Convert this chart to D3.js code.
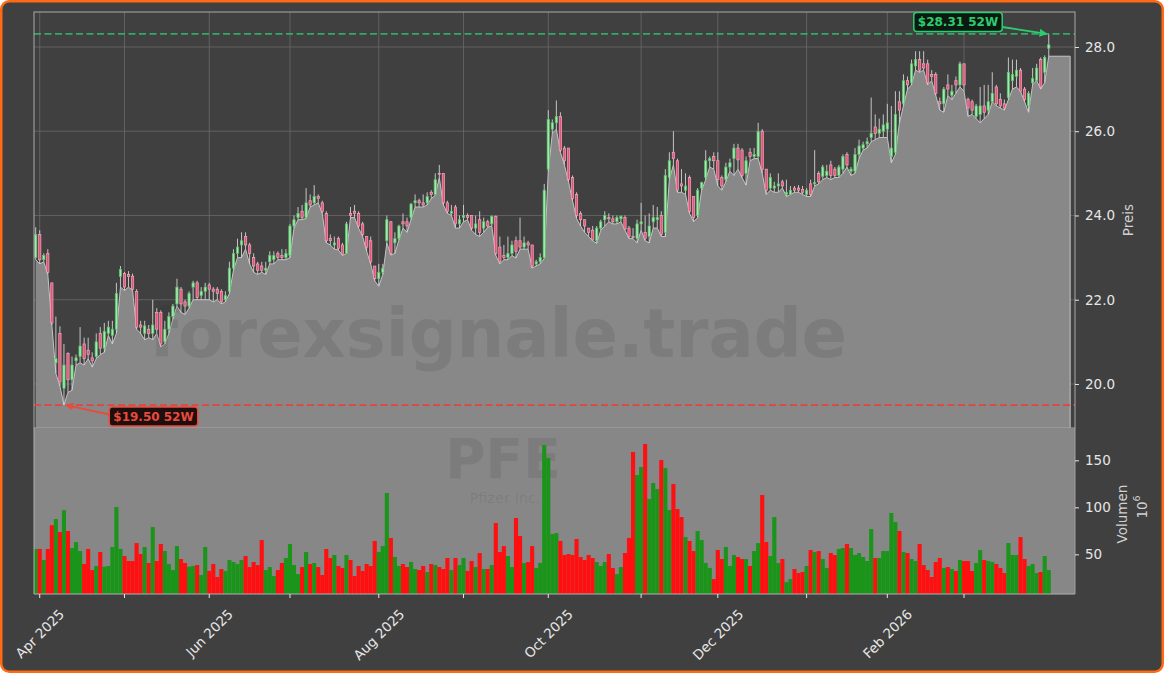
<!DOCTYPE html>
<html><head><meta charset="utf-8">
<script src="https://cdn.jsdelivr.net/npm/d3@7"></script>
<style>html,body{margin:0;padding:0;background:#fff;} svg{display:block;font-family:"DejaVu Sans",sans-serif;}</style>
</head><body><svg id="c" width="1164" height="673"></svg>
<script>
const opens=[23.0,23.55,22.95,23.1,22.4,20.5,21.2,19.9,20.72,20.1,20.55,20.65,20.95,20.8,20.62,20.65,21.2,20.85,21.2,21.15,
21.3,22.55,22.62,22.6,22.56,22.2,21.4,21.2,21.3,21.2,21.7,21.7,21.0,21.3,21.6,21.9,22.25,21.95,21.85,22.3,
22.4,22.1,22.2,22.35,22.25,22.25,22.2,22.0,22.2,22.75,23.1,23.3,23.5,23.3,23.0,22.85,22.8,22.7,22.9,22.95,
23.1,23.05,23.0,23.05,23.75,23.95,24.1,23.95,24.35,24.3,24.45,24.3,24.05,23.45,23.3,23.45,23.3,23.1,24.05,24.1,
24.05,23.8,23.5,23.4,22.8,22.5,22.65,23.4,23.85,23.35,23.45,23.85,23.85,23.95,24.3,24.35,24.3,24.3,24.55,24.5,
25.0,25.0,24.3,24.05,24.2,23.8,23.95,24.0,24.0,23.7,23.9,23.7,23.85,23.8,23.98,23.25,23.05,23.0,23.1,23.4,
23.4,23.25,23.35,23.3,22.85,22.9,23.0,25.1,26.05,26.2,26.35,25.6,25.6,24.9,24.5,24.05,23.9,23.7,23.65,23.4,
23.7,23.9,23.95,23.92,23.85,23.92,23.95,23.7,23.5,23.45,23.8,23.6,23.5,23.85,23.9,24.0,23.6,24.9,25.5,25.3,
24.75,24.6,24.9,24.45,24.0,24.65,24.9,25.3,25.4,25.3,24.9,24.85,25.15,25.35,25.6,25.55,25.0,25.5,25.4,25.4,
26.0,25.1,24.65,24.65,24.7,24.8,24.5,24.5,24.65,24.65,24.62,24.5,24.75,24.75,25.0,24.93,24.95,25.2,25.1,24.95,
25.1,25.45,25.05,25.05,25.45,25.6,25.7,25.85,26.1,25.95,26.0,26.05,25.4,25.5,26.7,26.65,27.2,27.15,27.55,27.7,
27.6,27.6,27.35,27.35,26.7,26.65,27.1,26.85,27.2,27.1,27.6,26.75,26.7,26.35,26.4,26.6,26.5,26.7,27.05,26.75,
26.65,26.8,27.2,27.3,27.45,27.0,26.6,27.15,27.2,27.7,27.4,27.97];
const highs=[23.72,23.65,23.1,23.2,22.4,21.6,21.37,20.95,20.75,20.65,20.7,21.35,21.1,21.1,20.75,21.2,21.35,21.45,21.5,21.5,
22.4,22.8,22.66,22.68,22.62,22.25,21.5,21.5,21.4,22.0,21.8,21.75,21.5,21.7,21.9,22.5,22.3,22.0,22.2,22.45,
22.45,22.3,22.4,22.4,22.3,22.3,22.25,22.2,22.9,23.2,23.45,23.6,23.6,23.35,23.1,22.9,22.9,22.9,23.15,23.15,
23.15,23.2,23.2,23.8,24.0,24.2,24.25,24.65,24.5,24.72,24.5,24.35,24.1,23.55,23.5,23.5,23.35,23.85,24.2,24.25,
24.1,23.85,23.5,23.5,22.8,22.85,22.85,24.0,23.87,23.6,23.78,24.05,23.95,24.3,24.5,24.4,24.5,24.55,24.6,25.0,
25.2,25.0,24.35,24.25,24.25,24.0,24.25,24.05,24.0,24.0,24.1,23.95,23.9,24.0,24.0,23.5,23.3,23.5,23.4,23.5,
23.95,23.5,23.4,23.3,22.95,23.1,24.75,26.5,26.28,26.73,26.45,25.65,25.6,24.95,24.55,24.1,23.9,23.7,23.75,23.75,
23.9,24.1,24.05,24.0,24.0,24.0,24.0,23.75,23.7,23.9,24.3,24.0,24.05,24.25,24.2,24.1,25.1,25.5,26.0,25.35,
25.1,25.0,24.95,24.45,24.65,24.8,25.55,25.4,25.5,25.5,24.95,25.25,25.35,25.7,25.7,25.6,25.4,25.6,25.6,26.2,
26.05,25.1,25.0,24.8,25.0,24.85,24.85,24.7,24.7,24.72,24.7,24.65,24.85,25.55,25.05,25.2,25.2,25.3,25.15,25.2,
25.45,25.5,25.15,25.6,25.8,25.75,25.85,26.8,26.4,26.3,26.4,26.65,26.6,26.95,26.95,27.35,27.3,27.7,27.9,27.9,
27.9,27.7,27.45,27.4,26.8,27.05,27.35,27.1,27.3,27.65,27.6,26.8,26.75,26.65,27.05,27.1,27.1,27.4,27.1,26.9,
26.75,27.75,27.7,27.7,27.5,27.05,26.95,27.5,27.6,27.75,27.8,28.31];
const lows=[22.95,22.85,22.9,22.6,21.4,20.25,19.95,19.5,19.8,19.85,20.45,20.5,20.45,20.6,20.4,20.6,20.7,20.75,21.15,20.95,
21.2,22.3,22.22,22.3,22.22,21.3,21.2,21.05,21.1,21.05,21.2,20.88,20.95,21.2,21.55,21.85,21.7,21.65,21.8,22.0,
22.0,22.0,22.0,22.0,21.95,22.0,21.9,21.95,22.15,22.7,23.0,23.0,23.2,22.85,22.65,22.6,22.65,22.6,22.85,22.85,
22.95,22.95,22.95,23.0,23.7,23.9,23.9,23.93,24.2,24.25,24.3,24.05,23.35,23.3,23.2,23.18,23.05,23.1,23.95,23.95,
23.7,23.5,23.15,22.85,22.45,22.32,22.6,23.35,23.06,23.1,23.42,23.7,23.6,23.9,24.2,24.2,24.2,24.25,24.4,24.48,
24.9,24.25,24.05,24.0,23.7,23.7,23.85,23.9,23.65,23.55,23.5,23.6,23.72,23.75,23.05,22.85,22.95,22.95,23.05,22.99,
23.2,23.2,23.2,22.75,22.8,22.85,22.98,25.05,25.95,26.05,25.5,25.2,24.8,24.35,23.93,23.75,23.6,23.5,23.4,23.34,
23.65,23.75,23.85,23.8,23.8,23.85,23.65,23.45,23.45,23.35,23.65,23.4,23.35,23.7,23.7,23.5,23.5,24.85,25.2,24.55,
24.55,24.5,24.05,23.85,23.95,24.6,24.85,25.15,25.1,24.7,24.6,24.8,25.05,24.95,25.1,24.9,24.72,25.3,25.35,25.35,
25.0,24.5,24.6,24.55,24.55,24.65,24.45,24.5,24.55,24.55,24.5,24.45,24.45,24.7,24.75,24.85,24.9,24.85,24.9,24.9,
25.0,25.15,24.95,25.0,25.35,25.55,25.6,25.75,25.8,25.85,25.85,25.85,25.25,25.45,26.2,26.6,27.0,27.1,27.45,27.4,
27.45,27.1,27.2,26.85,26.5,26.45,26.85,26.75,26.9,27.05,26.95,26.35,26.4,26.3,26.2,26.3,26.4,26.7,26.6,26.55,
26.5,26.75,27.0,27.05,26.95,26.7,26.45,27.1,27.2,27.0,27.15,27.78];
const closes=[23.55,22.95,23.05,22.65,21.45,20.6,20.05,20.45,20.1,20.45,20.62,20.9,20.6,20.7,20.55,21.0,20.85,21.25,21.35,21.3,
22.15,22.72,22.3,22.55,22.25,21.35,21.35,21.38,21.2,21.4,21.3,20.95,21.3,21.6,21.85,22.3,21.9,21.85,22.15,22.4,
22.05,22.2,22.3,22.25,22.2,22.15,21.95,22.1,22.75,23.1,23.25,23.4,23.3,23.1,22.8,22.7,22.7,22.75,23.05,23.05,
23.0,23.0,23.1,23.75,23.9,24.05,23.95,24.3,24.25,24.45,24.4,24.1,23.4,23.4,23.35,23.22,23.08,23.8,24.0,24.05,
23.75,23.55,23.25,22.9,22.5,22.65,22.75,23.9,23.1,23.45,23.75,23.8,23.75,24.27,24.35,24.3,24.25,24.45,24.5,24.85,
24.98,24.3,24.1,24.1,23.8,23.9,24.0,23.95,23.7,23.8,23.6,23.85,23.75,23.98,23.1,22.9,23.0,23.1,23.3,23.15,
23.25,23.35,23.3,22.8,22.9,23.0,24.6,26.28,26.2,26.35,25.55,25.3,24.85,24.4,24.0,23.9,23.75,23.6,23.42,23.7,
23.85,24.0,23.92,23.85,23.95,23.98,23.68,23.5,23.48,23.8,23.85,23.45,23.75,23.95,23.95,23.55,24.95,25.3,25.35,24.6,
24.7,24.7,24.1,23.95,24.6,24.78,25.3,25.35,25.3,24.85,24.7,25.15,25.25,25.6,25.32,24.95,25.3,25.4,25.45,25.99,
25.1,24.6,24.9,24.7,24.75,24.7,24.55,24.6,24.6,24.6,24.55,24.6,24.5,24.78,24.8,25.15,25.05,24.95,24.95,25.15,
25.4,25.2,25.1,25.45,25.65,25.68,25.75,25.95,25.95,26.05,26.15,26.2,25.6,26.4,26.5,27.2,27.1,27.6,27.7,27.45,
27.5,27.15,27.3,26.9,26.65,27.0,27.0,26.95,27.1,27.6,27.1,26.55,26.5,26.6,26.6,26.45,26.7,26.9,26.65,26.6,
26.55,27.4,27.35,27.45,26.95,26.75,26.9,27.25,27.5,27.05,27.75,28.05];
const volumes=[55.7,55.7,44,55.7,81,87.6,73.7,97,74.8,56.7,
63,53.5,39.7,55.7,33.3,37.6,52.5,36.9,37.6,57.8,
100.3,55.7,48.2,42.9,42.9,62,50.3,57.8,40.8,79,
42.9,61,53.5,39.7,33.3,58.8,45,40.8,36.9,37.6,
38.6,28,57.8,32.3,39.7,25.9,34.4,32.3,44,41.8,
39.7,44,48.2,36.5,41.8,38.6,65.2,33.3,36.5,27,
33.3,40.8,46.1,61,38.6,29,36.5,52.5,39.7,40.8,
36.5,28,55.7,46.1,49.3,37.6,35.5,49.3,44,27,
37.6,32.3,39.7,37.6,64.2,52.5,58.8,115.2,67.4,47.2,
37.6,39.7,36.5,41.8,34.4,33.3,37.6,31.2,39.7,38.6,
36.5,34.4,46.1,33.3,46.1,38.6,46.1,32.3,42.9,36.5,
51.4,34.4,34.4,38.6,83.3,52.5,58.8,48.2,36.5,88.6,
69.5,40.8,41.8,58.8,35.5,40.8,166.3,152.5,71.6,72.7,
64.2,49.3,50.3,49.3,66.3,47.2,44,49.3,46.1,41.8,
37.6,41.8,50.3,35.5,29,36.5,51.4,67.4,158.9,134.4,
142.9,167.4,108.9,125.9,119.5,150.3,141.8,97.2,124.8,98.2,
89.7,68.4,64.2,53.5,74.8,65.2,40.8,35.5,23.7,54.6,
45,57.8,37.6,49.3,47.2,45,45,37.6,53.5,62,
113.1,63.1,48.2,89.7,40.8,45,20.5,23.7,34.4,30.1,
31.2,37.6,54.6,52.5,53.5,45,35.5,51.4,49.3,55.7,
56.7,61,56.7,49.3,51.4,47.2,42.9,76.9,46.1,46.1,
53.5,53.5,94,84.4,74.8,52.5,51.4,45,42.9,61,
38.6,33.3,25.9,41.8,46.1,35.5,36.5,34.4,32.3,44,
42.9,42.9,32.3,40.8,54.6,44,42.9,41.8,39.7,35.5,
30.1,62,49.3,49.3,68.4,45,37.6,39.7,30.1,31.2,
48.2,33.3];
const monthIdx=[1,22,43,63,85,106,127,150,169,191,211,230];
const monthLabels=["Apr 2025","","Jun 2025","","Aug 2025","","Oct 2025","","Dec 2025","","Feb 2026",""];
const priceTicks=[20,22,24,26,28];
const volTicks=[50,100,150];
const high52=28.31, low52=19.50;
const ticker="PFE", company="Pfizer Inc.", watermark="forexsignale.trade";

const W=1164,H=673;
const svg=d3.select("#c");
svg.append("rect").attr("x",1.25).attr("y",1.25).attr("width",W-2.5).attr("height",H-2.5).attr("rx",8)
  .attr("fill","#404040").attr("stroke","#ff6a13").attr("stroke-width",2.5);

const L=34,R=1075,PT=12,PB=428,VT=428,VB=594;
const n=closes.length;
const x=d3.scaleLinear().domain([-0.42,257.5]).range([L,R]);
const y=d3.scaleLinear().domain([18.955,28.83]).range([PB,PT]);
const yv=d3.scaleLinear().domain([7.8,184.4]).range([VB,VT]);
const idx=d3.range(n);

const defs=svg.append("defs");
defs.append("clipPath").attr("id","cp").append("rect").attr("x",L).attr("y",PT).attr("width",R-L).attr("height",PB-PT);
defs.append("clipPath").attr("id","cv").append("rect").attr("x",L).attr("y",VT).attr("width",R-L).attr("height",VB-VT);
function marker(id,col){
  defs.append("marker").attr("id",id).attr("viewBox","0 0 10 10").attr("refX",9).attr("refY",5)
   .attr("markerWidth",8).attr("markerHeight",8).attr("markerUnits","userSpaceOnUse").attr("orient","auto")
   .append("path").attr("d","M0,0L10,5L0,10z").attr("fill",col);
}
marker("ag","#2ecc71"); marker("ar","#e74c3c");

// ---- price panel ----
const gp=svg.append("g").attr("clip-path","url(#cp)");
gp.selectAll(".hg").data(priceTicks).join("line").attr("x1",L).attr("x2",R)
  .attr("y1",d=>y(d)).attr("y2",d=>y(d)).attr("stroke","#6a6a6a").attr("stroke-width",0.8);
gp.selectAll(".vg").data(monthIdx).join("line").attr("y1",PT).attr("y2",PB)
  .attr("x1",d=>x(d)).attr("x2",d=>x(d)).attr("stroke","#6a6a6a").attr("stroke-width",0.8);

const ext=256.3;
const pts=idx.map(i=>[i,lows[i]]).concat([[ext,lows[n-1]]]);
gp.append("path").datum(pts).attr("fill","#888888")
  .attr("d",d3.area().x(d=>x(d[0])).y0(PB).y1(d=>y(d[1])));
gp.append("path").datum(pts.concat([[ext,18.9]])).attr("fill","none").attr("stroke","#c4c4c4").attr("stroke-width",1)
  .attr("d",d3.line().x(d=>x(d[0])).y(d=>y(d[1])));

gp.append("text").attr("x",498).attr("y",357).attr("text-anchor","middle").attr("font-weight","bold")
  .attr("font-size",67).attr("fill","rgba(50,50,50,0.13)").text(watermark);

const bw=2.3;
gp.selectAll(".wk").data(idx).join("line").attr("x1",i=>x(i)).attr("x2",i=>x(i))
  .attr("y1",i=>y(highs[i])).attr("y2",i=>y(lows[i])).attr("stroke","#d4d4d4").attr("stroke-width",0.9);
gp.selectAll(".bd").data(idx).join("rect")
  .attr("x",i=>x(i)-bw/2).attr("width",bw)
  .attr("y",i=>y(Math.max(opens[i],closes[i])))
  .attr("height",i=>Math.max(0.8,Math.abs(y(opens[i])-y(closes[i]))))
  .attr("fill",i=>closes[i]>=opens[i]?"#a8e6b0":"#e4557c")
  .attr("stroke",i=>closes[i]>=opens[i]?"#52c464":"#f2a6ba").attr("stroke-width",0.7);

gp.append("line").attr("x1",L).attr("x2",R).attr("y1",y(high52)).attr("y2",y(high52))
  .attr("stroke","#2ecc71").attr("stroke-opacity",0.75).attr("stroke-width",1.6).attr("stroke-dasharray","7,3.5");
gp.append("line").attr("x1",L).attr("x2",R).attr("y1",y(low52)).attr("y2",y(low52))
  .attr("stroke","#e8413a").attr("stroke-opacity",0.95).attr("stroke-width",1.7).attr("stroke-dasharray","7,3.5");

svg.append("rect").attr("x",L).attr("y",PT).attr("width",R-L).attr("height",PB-PT)
  .attr("fill","none").attr("stroke","#a9a9a9").attr("stroke-width",1);

// annotations
const iHi=highs.indexOf(d3.max(highs)), iLo=lows.indexOf(d3.min(lows));
function annot(ix,val,cx,cy,col,fill,mk,fromRight){
  const t=svg.append("text").attr("x",cx).attr("y",cy).attr("text-anchor","middle").attr("dominant-baseline","central")
    .attr("font-weight","bold").attr("font-size",12).attr("fill",col).text("$"+val.toFixed(2)+" 52W");
  const bb=t.node().getBBox();
  svg.insert("rect",()=>t.node()).attr("x",bb.x-4).attr("y",cy-9.5).attr("width",bb.width+8).attr("height",19).attr("rx",3)
    .attr("fill",fill).attr("stroke",col).attr("stroke-width",1.5);
  const sx=fromRight?bb.x+bb.width+4:bb.x-4;
  svg.append("line").attr("x1",sx).attr("y1",cy+(fromRight?5:-2)).attr("x2",x(ix)+(fromRight?-2:2)).attr("y2",y(val))
    .attr("stroke",col).attr("stroke-width",1.8).attr("marker-end","url(#"+mk+")");
}
annot(iHi,high52,958,22,"#2ecc71","#0b1a10","ag",true);
annot(iLo,low52,153.5,416.5,"#e74c3c","#1e0e0e","ar",false);

// ---- volume panel ----
svg.append("rect").attr("x",L).attr("y",VT).attr("width",R-L).attr("height",VB-VT).attr("fill","#878787");
const gv=svg.append("g").attr("clip-path","url(#cv)");
gv.append("text").attr("x",503).attr("y",478).attr("text-anchor","middle").attr("font-weight","bold")
  .attr("font-size",55).attr("fill","rgba(50,50,50,0.12)").text(ticker);
gv.append("text").attr("x",505).attr("y",503).attr("text-anchor","middle")
  .attr("font-size",14.5).attr("fill","rgba(50,50,50,0.12)").text(company);
const vw=4.1;
gv.selectAll(".vb").data(idx).join("rect").attr("x",i=>x(i)-vw/2).attr("width",vw)
  .attr("y",i=>yv(volumes[i])).attr("height",i=>VB-yv(volumes[i]))
  .attr("fill",i=>closes[i]>=opens[i]?"#1a951a":"#ff0f0f");
svg.append("line").attr("x1",L).attr("x2",R).attr("y1",VB).attr("y2",VB).attr("stroke","#b0b0b0").attr("stroke-width",1);
svg.append("line").attr("x1",L).attr("x2",L).attr("y1",VT).attr("y2",VB).attr("stroke","#b0b0b0").attr("stroke-width",1);
svg.append("line").attr("x1",R).attr("x2",R).attr("y1",VT).attr("y2",VB).attr("stroke","#a0a0a0").attr("stroke-width",1);

// ---- axes ----
const tc="#e6e6e6";
const pa=svg.append("g").attr("transform",`translate(${R},0)`).call(d3.axisRight(y).tickValues(priceTicks).tickFormat(d3.format(".1f")).tickSize(4).tickPadding(6));
const va=svg.append("g").attr("transform",`translate(${R},0)`).call(d3.axisRight(yv).tickValues(volTicks).tickFormat(d3.format("d")).tickSize(4).tickPadding(6));
[pa,va].forEach(g=>{g.select(".domain").remove();g.selectAll("line").attr("stroke",tc);
  g.selectAll("text").attr("fill",tc).attr("font-size",13.5).attr("font-family","DejaVu Sans");});

svg.selectAll(".xt").data(monthIdx).join("line").attr("x1",d=>x(d)).attr("x2",d=>x(d)).attr("y1",VB).attr("y2",VB+4).attr("stroke",tc);
monthIdx.forEach((d,k)=>{
  if(!monthLabels[k])return;
  const g=svg.append("g");
  const t=g.append("text").attr("text-anchor","middle").attr("dominant-baseline","central")
    .attr("font-size",13.5).attr("fill",tc).text(monthLabels[k]);
  const len=t.node().getComputedTextLength();
  const half=(len+13)/(2*Math.SQRT2);
  g.attr("transform",`translate(${x(d)},${607+half}) rotate(-45)`);
});

svg.append("text").attr("transform",`translate(1128,${(PT+PB)/2}) rotate(-90)`).attr("text-anchor","middle")
  .attr("dominant-baseline","central").attr("font-size",13.5).attr("fill","#d0d0d0").text("Preis");
svg.append("text").attr("transform",`translate(1122,${(VT+VB)/2+3}) rotate(-90)`).attr("text-anchor","middle")
  .attr("dominant-baseline","central").attr("font-size",13.5).attr("fill","#d0d0d0").text("Volumen");
const e6=svg.append("text").attr("transform",`translate(1142,507) rotate(-90)`).attr("text-anchor","middle")
  .attr("dominant-baseline","central").attr("font-size",13.5).attr("fill","#d0d0d0");
e6.append("tspan").text("10");
e6.append("tspan").attr("font-size",9.5).attr("dy",-6).text("6");
</script></body></html>
